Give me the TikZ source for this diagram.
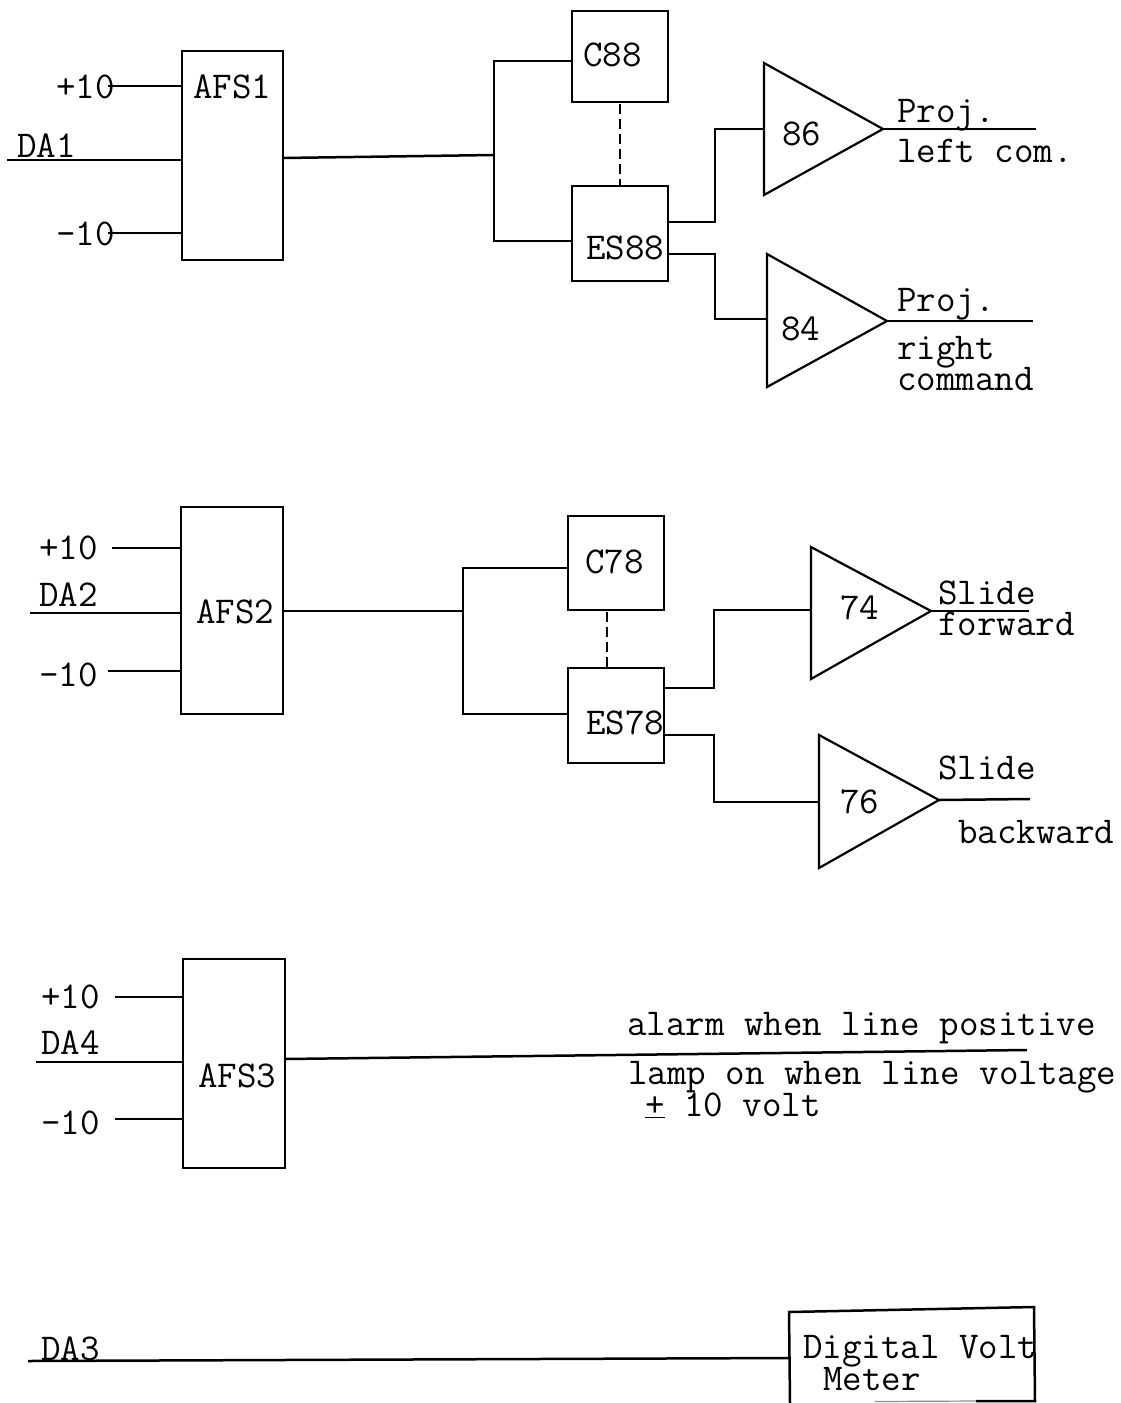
\documentclass[tikz,border=0pt]{standalone}
\tikzset{
  lbl/.style={inner sep=0pt,anchor=base west,font=\ttfamily\fontsize{37.9}{40}\selectfont,text=black},
  blk/.style={draw,line width=2.5pt,inner sep=0pt,outer sep=0pt,anchor=north west},
  wire/.style={line width=2.5pt},
  dsh/.style={line width=2.6pt,dash pattern=on 10pt off 5pt},
  tri/.style={draw,line width=2.2pt,line join=miter}
}
\newcommand{\blkbox}[5]{\node[blk,minimum width=#3pt-#2pt,minimum height=#5pt-#4pt] (#1) at (#2,#4) {};}
\begin{document}
\begin{tikzpicture}[x=1pt,y=-1pt]
\useasboundingbox (0,0) rectangle (1121,1403);
% group 1
\blkbox{afsa}{182}{283}{51}{260}
\blkbox{ca}{572}{668}{11}{102}
\blkbox{esa}{572}{668}{186}{281}
\node[lbl] (tafsa) at (193,98) {AFS1};
\node[lbl] (tca) at (583,66) {C88};
\node[lbl] (tesa) at (586,259) {ES88};
\coordinate (p1) at (108,86); \coordinate (d1) at (7,160); \coordinate (m1) at (108,233);
\draw[wire] (p1) -- (182,86);
\draw[wire] (d1) -- (182,160);
\draw[wire] (m1) -- (182,233);
\node[lbl] (tp1) at (56,98) {+10};
\node[lbl] (td1) at (17,157) {DA1};
\node[lbl] (tm1) at (56,245) {-10};
\coordinate (ja) at (494,155); \coordinate (jat) at (494,61); \coordinate (jab) at (494,241);
\draw[wire] (283,158) -- (ja);
\draw[wire] (ca.west |- jat) -- (jat) -- (jab) -- (esa.west |- jab);
\draw[dsh] (620,104) -- (620,186);
\coordinate (t86a) at (764,63); \coordinate (t86b) at (764,195); \coordinate (t86c) at (883,129);
\draw[tri] (t86a) -- (t86c) -- (t86b) -- cycle;
\node[lbl] (t86) at (782,145) {86};
\coordinate (t84a) at (767,254); \coordinate (t84b) at (767,387); \coordinate (t84c) at (887,321);
\draw[tri] (t84a) -- (t84c) -- (t84b) -- cycle;
\node[lbl] (t84) at (781,340) {84};
\draw[wire] (668,222) -- (715,222) -- (715,129) -- (764,129);
\draw[wire] (668,254) -- (715,254) -- (715,319) -- (767,319);
\coordinate (o86) at (1036,129); \coordinate (o84) at (1033,321);
\draw[wire] (t86c) -- (o86);
\draw[wire] (t84c) -- (o84);
\node[lbl] (l1) at (897,122) {Proj.};
\node[lbl] (l2) at (897,162) {left com.};
\node[lbl] (l3) at (897,311) {Proj.};
\node[lbl] (l4) at (897,359) {right};
\node[lbl] (l5) at (897,390) {command};
% group 2
\blkbox{afsb}{181}{283}{507}{714}
\blkbox{cb}{568}{664}{516}{610}
\blkbox{esb}{568}{664}{668}{763}
\node[lbl] (tafsb) at (196,623) {AFS2};
\node[lbl] (tcb) at (585,573) {C78};
\node[lbl] (tesb) at (586,734) {ES78};
\coordinate (p2) at (112,548); \coordinate (d2) at (30,613); \coordinate (m2) at (108,671);
\draw[wire] (p2) -- (181,548);
\draw[wire] (d2) -- (181,613);
\draw[wire] (m2) -- (181,671);
\node[lbl] (tp2) at (39,559) {+10};
\node[lbl] (td2) at (39,606) {DA2};
\node[lbl] (tm2) at (39,686) {-10};
\coordinate (jb) at (463,611); \coordinate (jbt) at (463,568); \coordinate (jbb) at (463,714);
\draw[wire] (283,611) -- (jb);
\draw[wire] (cb.west |- jbt) -- (jbt) -- (jbb) -- (esb.west |- jbb);
\draw[dsh] (607,612) -- (607,668);
\coordinate (t74a) at (811,547); \coordinate (t74b) at (811,679); \coordinate (t74c) at (931,611);
\draw[tri] (t74a) -- (t74c) -- (t74b) -- cycle;
\node[lbl] (t74) at (840,619) {74};
\coordinate (t76a) at (819,735); \coordinate (t76b) at (819,868); \coordinate (t76c) at (939,800);
\draw[tri] (t76a) -- (t76c) -- (t76b) -- cycle;
\node[lbl] (t76) at (840,813) {76};
\draw[wire] (664,688) -- (714,688) -- (714,610) -- (811,610);
\draw[wire] (664,735) -- (714,735) -- (714,802) -- (819,802);
\coordinate (o74) at (1029,611); \coordinate (o76) at (1030,799);
\draw[wire] (t74c) -- (o74);
\draw[wire] (t76c) -- (o76);
\node[lbl] (l6) at (938,604) {Slide};
\node[lbl] (l7) at (938,635) {forward};
\node[lbl] (l8) at (938,779) {Slide};
\node[lbl] (l9) at (958,843) {backward};
% group 3
\blkbox{afsc}{183}{285}{959}{1168}
\node[lbl] (tafsc) at (198,1087) {AFS3};
\coordinate (p3) at (115,997); \coordinate (d3) at (36,1062); \coordinate (m3) at (115,1119);
\draw[wire] (p3) -- (183,997);
\draw[wire] (d3) -- (183,1062);
\draw[wire] (m3) -- (183,1119);
\node[lbl] (tp3) at (41,1008) {+10};
\node[lbl] (td3) at (41,1054) {DA4};
\node[lbl] (tm3) at (41,1134) {-10};
\coordinate (oc) at (1027,1050);
\draw[wire] (285,1059) -- (oc);
\node[lbl] (l10) at (627,1035) {alarm when line positive};
\node[lbl] (l11) at (628,1084) {lamp on when line voltage};
\node[lbl] (l12) at (645,1116) {\underline{+} 10 volt};
% group 4
\coordinate (dvmtl) at (789,1312); \coordinate (dvmtr) at (1034,1307);
\coordinate (dvmbl) at (790,1403); \coordinate (dvmbr) at (1035,1401);
\coordinate (dvmbm) at (976,1401); \coordinate (dvmbe) at (875,1401.5);
\draw[wire] (dvmbl) -- (dvmtl) -- (dvmtr) -- (dvmbr) -- (dvmbm);
\draw[line width=1.2pt,black!45] (dvmbm) -- (dvmbe);
\coordinate (d4) at (28,1361); \coordinate (d4e) at (789,1358);
\draw[wire] (d4) -- (d4e);
\node[lbl] (td4) at (41,1360) {DA3};
\node[lbl] (l13) at (803,1358) {Digital Volt};
\node[lbl] (l14) at (823,1390) {Meter};
\end{tikzpicture}
\end{document}
